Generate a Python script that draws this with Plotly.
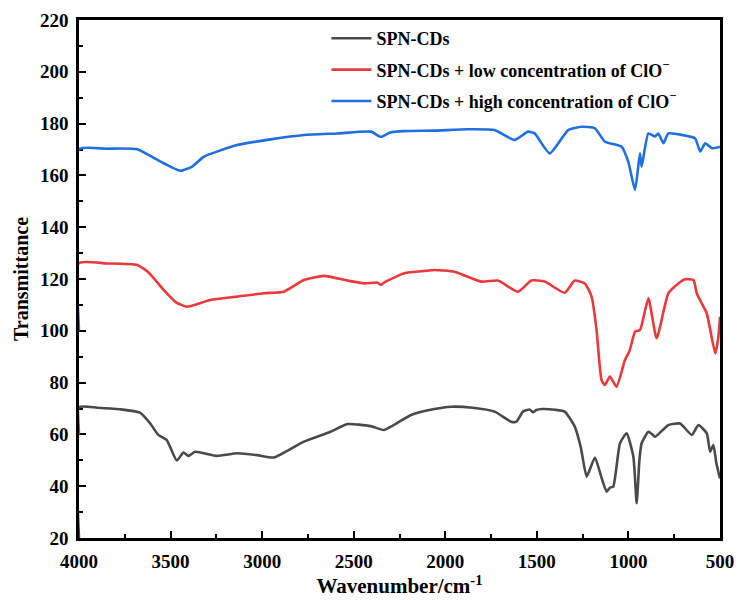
import plotly.graph_objects as go

# ---- data ----
black_w = [4000, 4000, 3900, 3776, 3667, 3612, 3567, 3521, 3466, 3430, 3402, 3366, 3247, 3136, 3027, 2936,
           2772, 2626, 2534, 2407, 2334, 2187, 2060, 1968, 1850, 1731, 1640, 1612, 1576, 1540, 1520, 1503,
           1470, 1400, 1348, 1293, 1260, 1228, 1183, 1150, 1119, 1100, 1083, 1046, 1010, 973, 955, 940,
           928, 891, 870, 855, 782, 718, 654, 618, 572, 554, 536, 520, 500]
black_v = [20, 70.5, 70.3, 69.7, 68.4, 64.3, 59.8, 57.8, 49.9, 53.0, 51.7, 53.3, 51.7, 52.7, 52.0, 51.1,
           57.2, 61.0, 64.0, 63.2, 61.7, 67.5, 69.8, 70.7, 70.3, 68.8, 64.9, 64.9, 68.8, 69.6, 68.6, 69.4,
           69.8, 69.5, 68.8, 63.0, 55.0, 43.7, 51.1, 44.0, 37.9, 39.5, 39.8, 56.6, 60.4, 51.4, 33.4, 50.0,
           56.6, 61.0, 60.0, 59.1, 63.6, 64.2, 59.8, 63.6, 60.4, 53.3, 55.9, 49.0, 43.0]

red_w = [4000, 4000, 3850, 3682, 3620, 3538, 3470, 3410, 3283, 3136, 2991, 2881, 2772, 2662, 2534, 2443,
         2370, 2352, 2330, 2224, 2100, 2060, 1950, 1804, 1713, 1603, 1530, 1457, 1348, 1293, 1238, 1201,
         1174, 1147, 1129, 1101, 1065, 1019, 992, 964, 937, 891, 846, 782, 727, 691, 645, 627, 600,
         572, 526, 510, 500]
red_v = [60, 126.1, 126.0, 125.4, 122.5, 115.8, 111.0, 109.3, 111.9, 113.2, 114.5, 115.1, 119.6, 121.2, 119.4, 118.3,
         118.6, 117.7, 118.8, 122.2, 123.2, 123.5, 122.8, 119.0, 119.4, 115.1, 119.4, 119.0, 114.7, 119.4, 118.3, 113.2,
         100.3, 81.0, 79.1, 82.3, 78.4, 88.7, 92.6, 99.7, 100.3, 112.5, 97.1, 114.5, 118.3, 119.9, 119.6, 114.5, 110.6,
         106.7, 91.3, 97.0, 105.4]

blue_w = [4000, 4000, 3850, 3682, 3560, 3447, 3380, 3319, 3136, 2954, 2771, 2589, 2406, 2352, 2300, 2226,
          2060, 1877, 1731, 1622, 1548, 1512, 1430, 1329, 1256, 1183, 1128, 1037, 1001, 964, 937, 928,
          891, 855, 837, 809, 782, 700, 636, 608, 581, 544, 500]
blue_v = [100, 170.1, 170.3, 170.1, 165.5, 161.8, 163.5, 167.2, 171.7, 173.9, 175.6, 176.2, 176.9, 174.9, 176.6, 177.1,
          177.3, 177.8, 177.5, 173.7, 176.9, 176.2, 168.5, 177.5, 178.8, 178.2, 173.0, 171.1, 165.3, 154.4, 168.5, 163.4,
          176.2, 175.0, 176.2, 172.4, 176.2, 175.5, 174.3, 169.2, 172.4, 170.5, 171.1]

names = ["SPN-CDs",
         "SPN-CDs + low concentration of ClO<sup>−</sup>",
         "SPN-CDs + high concentration of ClO<sup>−</sup>"]
colors = ["#4a4a4a", "#e8393c", "#1f6fdc"]

x_ticks = [4000, 3500, 3000, 2500, 2000, 1500, 1000, 500]
y_ticks = list(range(20, 221, 20))

FONT = "Liberation Serif"

fig = go.Figure()
for i, (w, v) in enumerate([(black_w, black_v), (red_w, red_v), (blue_w, blue_v)]):
    fig.add_trace(go.Scatter(
        x=w, y=v, mode="lines", name=names[i], legendgroup=f"g{i}",
        line=dict(color=colors[i], width=2.6, shape="spline", smoothing=0.5),
    ))

axis_common = dict(
    showline=True, linecolor="black", linewidth=2.5, mirror=True,
    ticks="inside", ticklen=7, tickwidth=2.2, tickcolor="black",
    showgrid=False, zeroline=False, layer="below traces", automargin=False,
    tickfont=dict(family=FONT, size=19, color="black", weight="bold"),
    minor=dict(ticks="inside", ticklen=4, tickwidth=2, tickcolor="black"),
)

fig.update_xaxes(
    range=[4000, 500], tickvals=x_ticks, ticktext=[str(t) for t in x_ticks],
    minor_dtick=250, minor_tick0=500, ticklabelstandoff=4,
    title=dict(text="<b>Wavenumber/cm<sup>-1</sup></b>", font=dict(family=FONT, size=21, color="#000000"), standoff=2),
    **axis_common,
)
fig.update_yaxes(
    range=[20, 220], tickvals=y_ticks, ticktext=[str(t) for t in y_ticks],
    minor_dtick=10, minor_tick0=0, ticklabelstandoff=4,
    title=dict(text="<b>Transmittance</b>", font=dict(family=FONT, size=20, color="#000000"), standoff=6),
    **axis_common,
)

fig.update_layout(
    width=739, height=600,
    margin=dict(l=79, r=19, t=20, b=62),
    paper_bgcolor="white", plot_bgcolor="white",
    showlegend=True,
    legend=dict(
        x=0.386, y=1.0, xanchor="left", yanchor="top",
        bgcolor="rgba(0,0,0,0)", borderwidth=0,
        font=dict(family=FONT, size=18, color="black", weight="bold"),
        traceorder="grouped", tracegroupgap=5, itemwidth=40,
    ),
)

fig.write_html("out.html")
